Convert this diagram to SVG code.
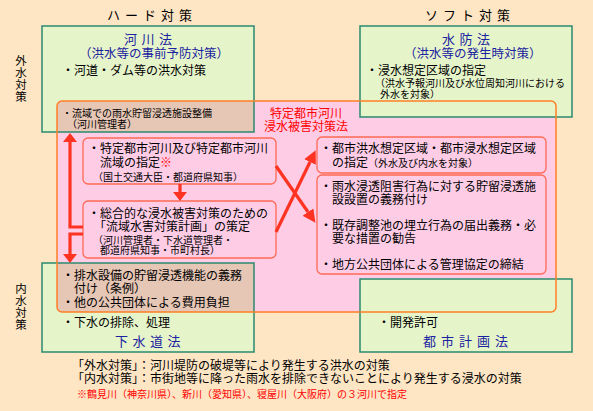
<svg xmlns="http://www.w3.org/2000/svg" width="593" height="411" viewBox="0 0 593 411">
<defs>
<style>
text{font-family:"Noto Sans CJK JP","Noto Sans CJK SC",sans-serif;fill:#000}
.b12{font-size:12px}
.b10{font-size:10px}
.blue{fill:#1a23a0;font-size:12.5px}
.ttl{fill:#1a23a0;font-size:13px}
.red{fill:#ff0000}
.hd{font-size:13px}
.vt{font-size:11.5px}
.gbox{fill:#e6f4ca}
.gstroke{fill:none;stroke:#2a8a70;stroke-width:1.5}
.brown{fill:#e6c6b5}
.inner{fill:#ffcce6;stroke:#ff6a55;stroke-width:1.3}
.arr{fill:none;stroke:#ff3322;stroke-width:3.2}
</style>
<marker id="ah" markerUnits="userSpaceOnUse" markerWidth="9" markerHeight="14" viewBox="0 0 9 14" refX="0" refY="7" orient="auto"><path d="M0,0 L9,7 L0,14 Z" fill="#ff3322"/></marker>
<marker id="ahx" markerUnits="userSpaceOnUse" markerWidth="13" markerHeight="13" viewBox="0 0 13 13" refX="0" refY="6.5" orient="auto"><path d="M0,0 L13,6.5 L0,13 Z" fill="#ff3322"/></marker>
</defs>
<rect width="593" height="411" fill="#fee5c4"/>

<g id="headers">
<text class="hd" x="107" y="20" letter-spacing="5">ハード対策</text>
<text class="hd" x="425" y="20" letter-spacing="5">ソフト対策</text>
<g id="gaisui" class="vt" text-anchor="middle">
<text x="21" y="65">外</text><text x="21" y="77">水</text><text x="21" y="89">対</text><text x="21" y="101">策</text>
</g>
<g id="naisui" class="vt" text-anchor="middle">
<text x="21" y="293">内</text><text x="21" y="305">水</text><text x="21" y="317">対</text><text x="21" y="329">策</text>
</g>
</g>

<g id="backs">
<rect x="57" y="101" width="499" height="211" rx="5" fill="#ffcce6"/>
<rect class="gbox" x="42" y="26" width="212" height="106"/>
<rect class="gbox" x="360" y="26" width="212" height="91"/>
<rect class="gbox" x="42" y="263" width="212" height="89"/>
<rect class="gbox" x="360" y="279" width="212" height="73"/>
<path class="brown" d="M57,132 V106 Q57,101 62,101 H254 V132 Z"/>
<path class="brown" d="M57,263 H254 V312 H62 Q57,312 57,307 Z"/>
</g>

<g id="kasen-hou">
<rect class="gstroke" x="42" y="26" width="212" height="106"/>
<text class="ttl" x="124" y="44" letter-spacing="4.5">河川法</text>
<text class="blue" x="79" y="58">（洪水等の事前予防対策）</text>
<text class="b12" x="62" y="75">・河道・ダム等の洪水対策</text>
</g>

<g id="suibou-hou">
<rect class="gstroke" x="360" y="26" width="212" height="91"/>
<text class="ttl" x="442" y="44" letter-spacing="4.5">水防法</text>
<text class="blue" x="404" y="58">（洪水等の発生時対策）</text>
<text class="b12" x="366" y="75">・浸水想定区域の指定</text>
<text class="b10" x="375" y="87">（洪水予報河川及び水位周知河川における</text>
<text class="b10" x="380" y="98">外水を対象）</text>
</g>

<g id="gesuido-hou">
<rect class="gstroke" x="42" y="263" width="212" height="89"/>
<text class="b12" x="62" y="327">・下水の排除、処理</text>
<text class="ttl" x="115" y="346" letter-spacing="4.5">下水道法</text>
</g>

<g id="toshikeikaku-hou">
<rect class="gstroke" x="360" y="279" width="212" height="73"/>
<text class="b12" x="378" y="327">・開発許可</text>
<text class="ttl" x="423" y="346" letter-spacing="5">都市計画法</text>
</g>

<g id="tokutei-hou">
<rect x="57" y="101" width="499" height="211" rx="5" fill="none" stroke="#ff7f27" stroke-width="1.5"/>
<text class="red" x="306" y="118" text-anchor="middle" font-size="12">特定都市河川</text>
<text class="red" x="306" y="131" text-anchor="middle" font-size="12">浸水被害対策法</text>
</g>

<g id="ryuiki-seibi">
<text class="b10" x="62" y="117">・流域での雨水貯留浸透施設整備</text>
<text class="b10" x="67" y="128">（河川管理者）</text>
</g>

<g id="haisui-setsubi">
<text class="b12" x="62" y="280">・排水設備の貯留浸透機能の義務</text>
<text class="b12" x="74" y="293">付け（条例）</text>
<text class="b12" x="62" y="307">・他の公共団体による費用負担</text>
</g>

<g id="box-shitei">
<rect class="inner" x="83" y="138" width="193" height="46" rx="5"/>
<text class="b12" x="88" y="153">・特定都市河川及び特定都市河川</text>
<text class="b12" x="100" y="167">流域の指定<tspan class="red">※</tspan></text>
<text class="b10" x="93" y="181">（国土交通大臣・都道府県知事）</text>
</g>

<g id="box-keikaku">
<rect class="inner" x="83" y="201" width="193" height="57" rx="5"/>
<text class="b12" x="88" y="218">・総合的な浸水被害対策のための</text>
<text class="b12" x="94" y="231">「流域水害対策計画」の策定</text>
<text class="b10" x="93" y="244">（河川管理者・下水道管理者・</text>
<text class="b10" x="100" y="254">都道府県知事・市町村長）</text>
</g>

<g id="box-kuiki">
<rect class="inner" x="317" y="137" width="229" height="36" rx="5"/>
<text class="b12" x="320" y="153">・都市洪水想定区域・都市浸水想定区域</text>
<text class="b12" x="332" y="167">の指定<tspan class="b10">（外水及び内水を対象）</tspan></text>
</g>

<g id="box-gimu">
<rect class="inner" x="317" y="175" width="229" height="99" rx="5"/>
<text class="b12" x="320" y="191">・雨水浸透阻害行為に対する貯留浸透施</text>
<text class="b12" x="332" y="204">設設置の義務付け</text>
<text class="b12" x="320" y="230">・既存調整池の埋立行為の届出義務・必</text>
<text class="b12" x="332" y="243">要な措置の勧告</text>
<text class="b12" x="320" y="269">・地方公共団体による管理協定の締結</text>
</g>

<g id="connectors">
<path class="arr" d="M83,227 H70 V142" marker-end="url(#ah)"/>
<path class="arr" d="M83,234 H70 V254" marker-end="url(#ah)"/>
<path class="arr" d="M180,184 V192" marker-end="url(#ah)"/>
<path class="arr" d="M276,232 L310,162" marker-end="url(#ahx)"/>
<path class="arr" d="M276,166 L308,212" marker-end="url(#ahx)"/>
</g>

<g id="notes">
<text class="b12" x="72" y="370">「外水対策」：河川堤防の破堤等により発生する洪水の対策</text>
<text class="b12" x="72" y="383">「内水対策」：市街地等に降った雨水を排除できないことにより発生する浸水の対策</text>
<text class="b10 red" x="77" y="398">※鶴見川（神奈川県）、新川（愛知県）、寝屋川（大阪府）の３河川で指定</text>
</g>
</svg>
